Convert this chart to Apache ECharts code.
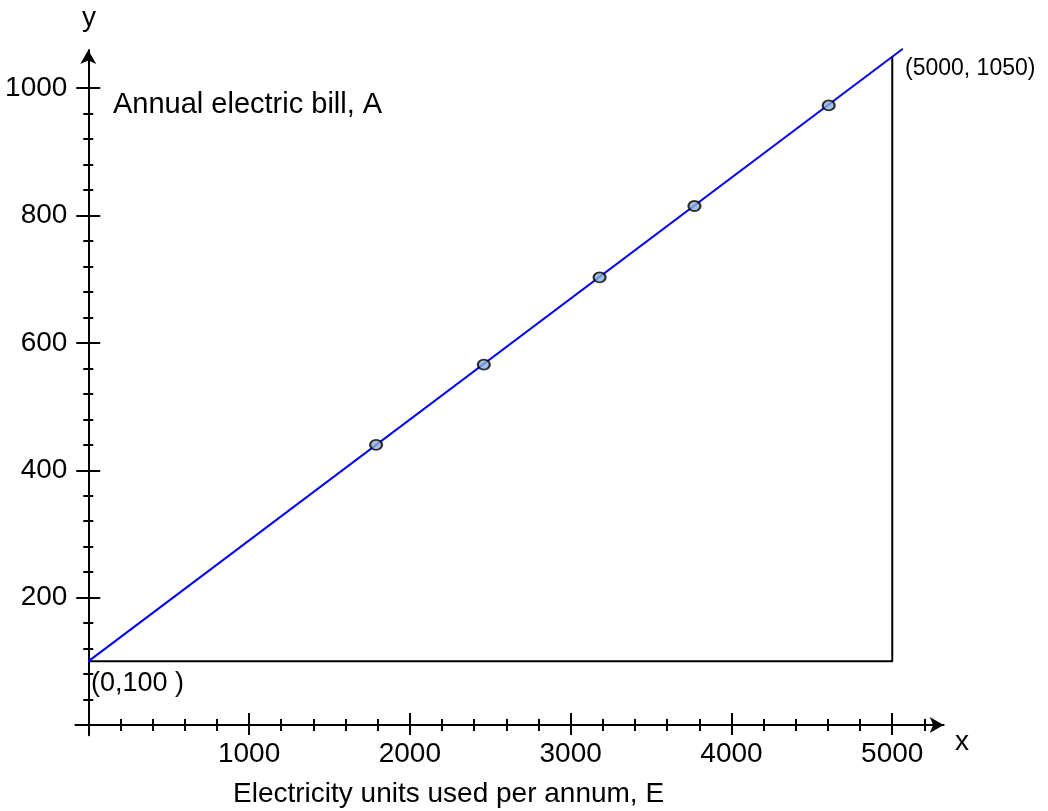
<!DOCTYPE html>
<html>
<head>
<meta charset="utf-8">
<script src="https://cdn.jsdelivr.net/npm/echarts@6/dist/echarts.min.js"></script>
<style>
  html, body { margin: 0; padding: 0; background: #fff; }
  #chart { width: 1048px; height: 811px; }
</style>
</head>
<body>
<div id="chart"></div>
<script>
// fitted line A = 100 + 0.19 E, drawn a little past E = 5000
const lineE = [0, 5066]
const lineA = [100, 1062]
// corner guide: (0,100) -> (5000,100) -> (5000,1050)
const guideE = [0, 5000, 5000]
const guideA = [100, 100, 1050]
// measured points
const pointE = [1790, 2460, 3180, 3770, 4605]
const pointA = [440, 566, 703, 815, 973]

const xLabelTicks = [1000, 2000, 3000, 4000, 5000]
const xMinorTicks = [200, 400, 600, 800, 1200, 1400, 1600, 1800, 2200, 2400, 2600, 2800,
  3200, 3400, 3600, 3800, 4200, 4400, 4600, 4800, 5200]
const yLabelTicks = [200, 400, 600, 800, 1000]
const yMinorTicks = [40, 80, 120, 160, 240, 280, 320, 360, 440, 480, 520, 560,
  640, 680, 720, 760, 840, 880, 920, 960]

const xMin = -80, xMax = 5320
const yMin = -16, yMax = 1060

const font = '"Liberation Sans", Arial, sans-serif'

const chart = echarts.init(document.getElementById('chart'))

const makeAxis = (dim, opts) => ({
  type: 'value',
  min: dim === 'x' ? xMin : yMin,
  max: dim === 'x' ? xMax : yMax,
  position: dim === 'x' ? 'bottom' : 'left',
  splitLine: { show: false },
  axisLine: {
    show: !!opts.line,
    onZero: true,
    onZeroAxisIndex: 0,
    symbol: ['none', 'arrow'],
    symbolSize: [12, 14],
    lineStyle: { color: '#000', width: 2 }
  },
  axisTick: {
    show: true,
    inside: opts.inside,
    length: opts.len,
    customValues: opts.ticks,
    lineStyle: { color: '#000', width: 2 }
  },
  axisLabel: opts.labels ? {
    show: true,
    customValues: opts.ticks,
    margin: dim === 'x' ? 5 : 8,
    formatter: (v) => String(v),
    color: '#000',
    fontSize: 28,
    fontFamily: font
  } : { show: false }
})

const pts = (xs, ys) => xs.map((v, i) => [v, ys[i]])

const option = {
  animation: false,
  backgroundColor: '#fff',
  grid: {
    left: 75.4, right: 104.3, top: 50, bottom: 75.8,
    containLabel: false,
    outerBoundsMode: 'none'
  },
  xAxis: [
    makeAxis('x', { line: true, labels: true, inside: false, len: 10, ticks: xLabelTicks }),
    makeAxis('x', { inside: true, len: 12, ticks: xLabelTicks }),
    makeAxis('x', { inside: false, len: 6, ticks: xMinorTicks }),
    makeAxis('x', { inside: true, len: 6, ticks: xMinorTicks })
  ],
  yAxis: [
    makeAxis('y', { line: true, labels: true, inside: false, len: 12, ticks: yLabelTicks }),
    makeAxis('y', { inside: true, len: 12, ticks: yLabelTicks }),
    makeAxis('y', { inside: false, len: 5, ticks: yMinorTicks }),
    makeAxis('y', { inside: true, len: 5, ticks: yMinorTicks })
  ],
  series: [
    {
      type: 'line',
      data: pts(guideE, guideA),
      symbol: 'none',
      lineStyle: { color: '#000', width: 2 },
      z: 2
    },
    {
      type: 'line',
      data: pts(lineE, lineA),
      symbol: 'none',
      clip: false,
      lineStyle: { color: '#0000ff', width: 2 },
      z: 3
    },
    {
      type: 'scatter',
      data: pts(pointE, pointA),
      symbol: 'circle',
      symbolSize: [12, 10],
      itemStyle: { color: '#8fb0d4', borderColor: '#000', borderWidth: 2 },
      z: 4
    }
  ],
  graphic: [
    { type: 'text', left: 113, top: 90, style: { text: 'Annual electric bill, A', fontSize: 29, fontFamily: font, fill: '#000' } },
    { type: 'text', left: 905, top: 57, style: { text: '(5000, 1050)', fontSize: 23, fontFamily: font, fill: '#000' } },
    { type: 'text', left: 91, top: 670, style: { text: '(0,100 )', fontSize: 27, fontFamily: font, fill: '#000' } },
    { type: 'text', left: 82, top: 4, style: { text: 'y', fontSize: 28, fontFamily: font, fill: '#000' } },
    { type: 'text', left: 955, top: 728, style: { text: 'x', fontSize: 28, fontFamily: font, fill: '#000' } },
    { type: 'text', left: 233, top: 780, style: { text: 'Electricity units used per annum, E', fontSize: 28, fontFamily: font, fill: '#000' } }
  ]
}

chart.setOption(option)
</script>
</body>
</html>
